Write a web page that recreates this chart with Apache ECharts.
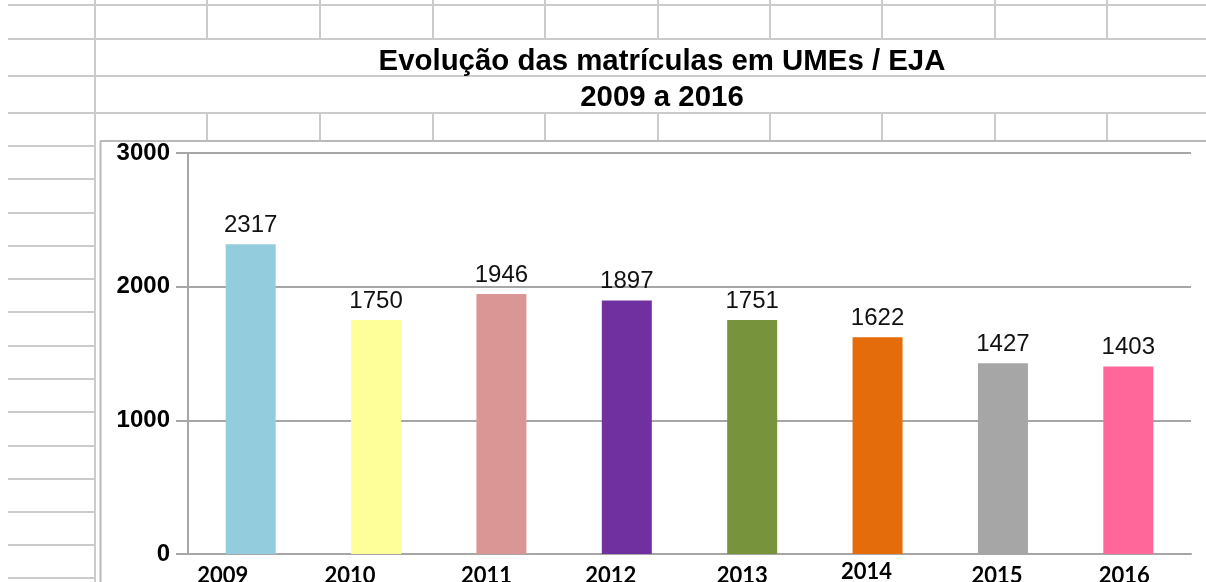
<!DOCTYPE html>
<html>
<head>
<meta charset="utf-8">
<script src="https://cdn.jsdelivr.net/npm/echarts@6/dist/echarts.min.js"></script>
<style>
html,body{margin:0;padding:0;background:#fff;}
#c{width:1206px;height:582px;}
</style>
</head>
<body>
<div id="c"></div>
<script>
var titleLine1 = 'Evolução das matrículas em UMEs / EJA';
var titleLine2 = '2009 a 2016';
var categories = ['2009','2010','2011','2012','2013','2014','2015','2016'];
var values = [2317, 1750, 1946, 1897, 1751, 1622, 1427, 1403];
var barColors = ['#93CDDD','#FFFF99','#D99694','#7030A0','#77933C','#E46C0A','#A6A6A6','#FF6699'];
var yTicks = [0, 1000, 2000, 3000];
// small per-label nudges of the category labels (as in the reference)
var labelDx = [-28, -26, -15, -16, -10, -11, -6, -4];
var labelDy = [0, 0, 0, 0, 0, -4, 0, 0];

var sheetColor = '#cbcbcb';
var rowsFull = [5, 39, 76, 113];
var rowsLeft = [146, 179, 213, 246, 279, 312, 346, 379, 412, 446, 479, 512, 545, 578];
var cols = [207, 320, 433, 545, 658, 770, 882, 995, 1107];

var g = [];
function ln(x1,y1,x2,y2,c,w){ g.push({type:'line', silent:true, z:-10, shape:{x1:x1,y1:y1,x2:x2,y2:y2}, style:{stroke:c||sheetColor, lineWidth:w||2}}); }
rowsFull.forEach(function(y){ ln(8,y,1206,y); });
rowsLeft.forEach(function(y){ ln(8,y,95,y); });
ln(95,0,95,582);
cols.forEach(function(x){ ln(x,0,x,39); ln(x,113,x,141); });
// chart frame
ln(100,141,1206,141,'#b9b9b9',2);
ln(100.5,141,100.5,582,'#b9b9b9',2);

var rich = {};
categories.forEach(function(c,i){
  var dx = labelDx[i], dy = labelDy[i];
  var pr = dx < 0 ? -2*dx : 0, pl = dx > 0 ? 2*dx : 0;
  rich['s'+i] = {padding:[4+dy, pr, 0, pl], fontFamily:'Lato', fontWeight:'bold', fontSize:22, color:'#000'};
});

var chart = echarts.init(document.getElementById('c'), null, {renderer:'canvas'});
chart.setOption({
  animation:false,
  backgroundColor:'#fff',
  title:[
    {text:titleLine1, left:657, top:42, textAlign:'center', textStyle:{fontFamily:'Liberation Sans', fontWeight:'bold', fontSize:29.4, color:'#000'}},
    {text:titleLine2, left:657, top:78, textAlign:'center', textStyle:{fontFamily:'Liberation Sans', fontWeight:'bold', fontSize:29.4, color:'#000'}}
  ],
  graphic:g,
  grid:{left:188, right:15, top:153, bottom:28, containLabel:false, outerBoundsMode:'none'},
  xAxis:{
    type:'category', data:categories,
    axisLine:{lineStyle:{color:'#a6a6a6', width:2}},
    axisTick:{show:false},
    axisLabel:{margin:7, formatter:function(v,i){ return '{s'+i+'|'+v+'}'; }, rich:rich}
  },
  yAxis:{
    type:'value', min:yTicks[0], max:yTicks[yTicks.length-1], interval:1000,
    axisLine:{show:true, lineStyle:{color:'#a6a6a6', width:2}},
    axisTick:{show:true, length:12, lineStyle:{color:'#a6a6a6', width:2}},
    splitLine:{lineStyle:{color:'#a6a6a6', width:2}},
    axisLabel:{margin:18, color:'#000', formatter:function(v){ return String(v); }, fontFamily:'Liberation Sans', fontWeight:'bold', fontSize:24}
  },
  series:[{
    type:'bar', barWidth:50,
    data:values.map(function(v,i){ return {value:v, itemStyle:{color:barColors[i]}}; }),
    label:{show:true, position:'top', distance:7, color:'#111', fontFamily:'Liberation Sans', fontSize:24}
  }]
});
</script>
</body>
</html>
